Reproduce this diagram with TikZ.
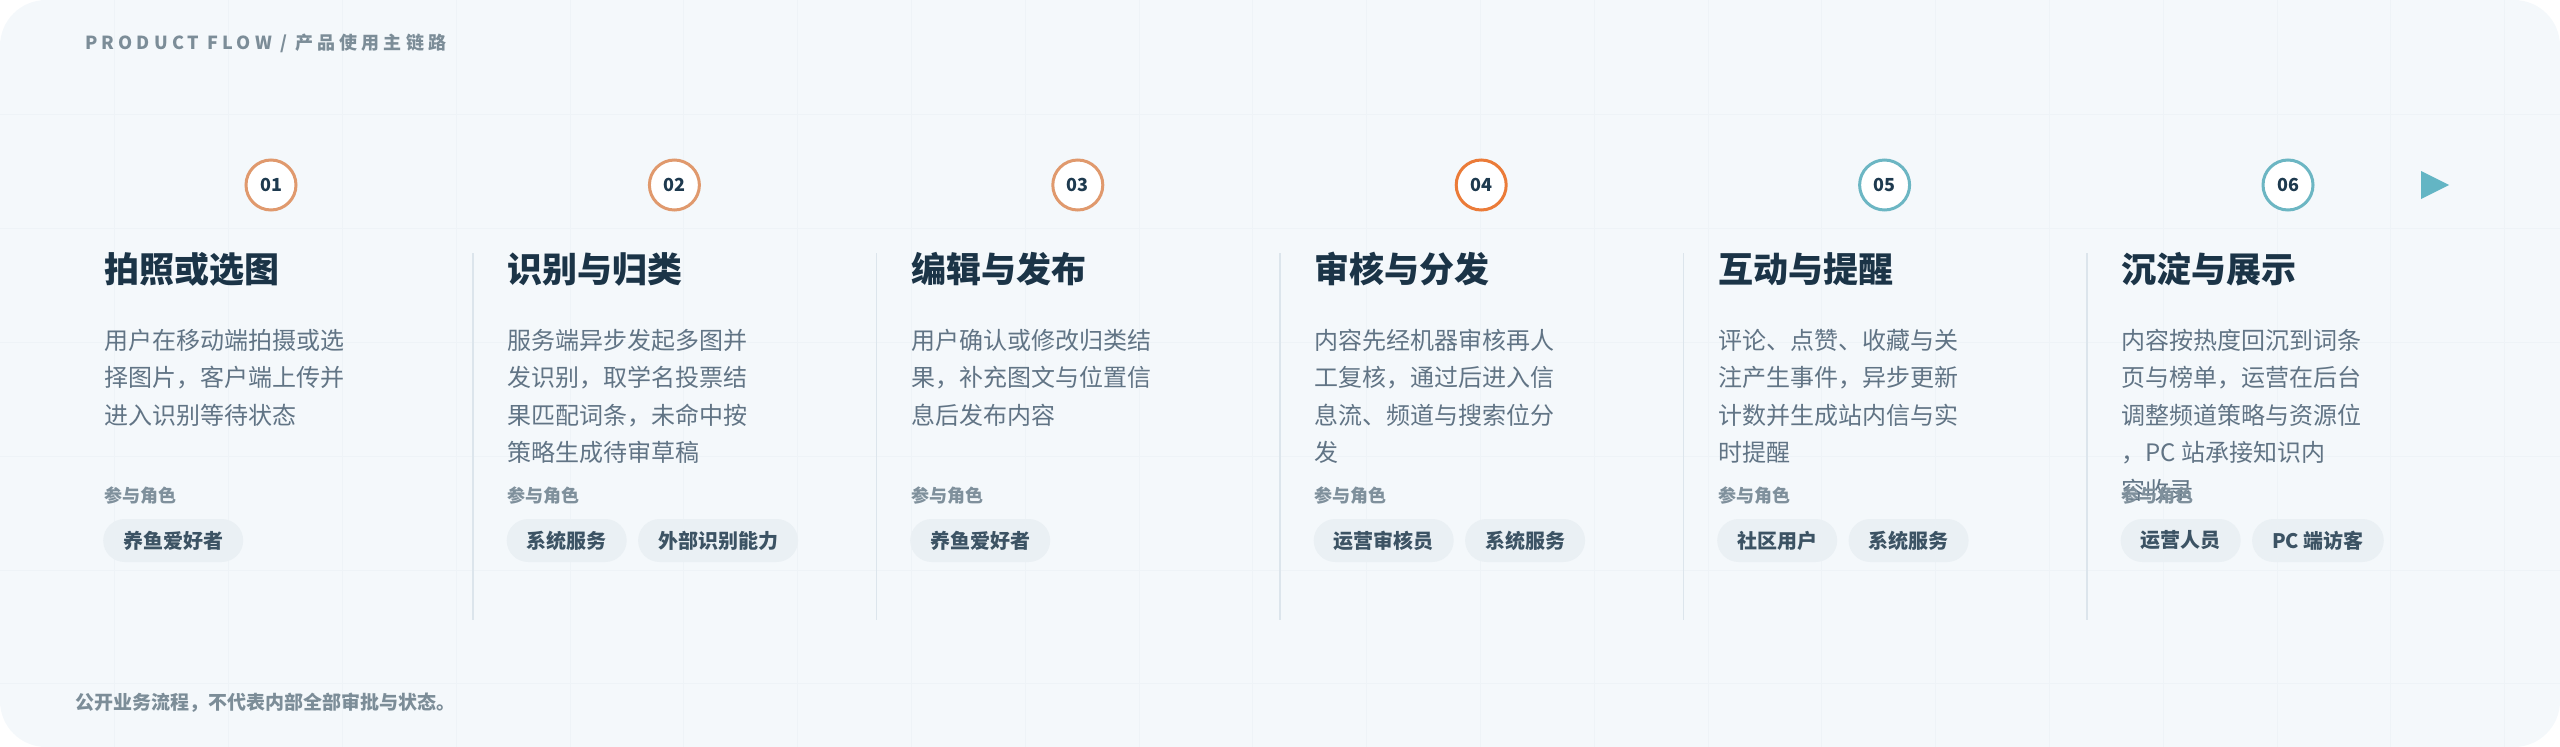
\documentclass[tikz,border=0pt]{standalone}
\usepackage{fontspec}
\setmainfont{Noto Sans CJK SC}
\definecolor{panelbg}{HTML}{F4F8FB}
\definecolor{gridc}{HTML}{EEF3F7}
\definecolor{divc}{HTML}{DCE5EC}
\definecolor{titlec}{HTML}{1B3447}
\definecolor{descc}{HTML}{617485}
\definecolor{labelc}{HTML}{7F909C}
\definecolor{chipbg}{HTML}{EAF0F4}
\definecolor{chiptext}{HTML}{3C5364}
\definecolor{headc}{HTML}{7C8D98}
\definecolor{ringa}{HTML}{E0996D}
\definecolor{ringb}{HTML}{EB7B38}
\definecolor{ringc}{HTML}{6CB6C3}
\definecolor{numc}{HTML}{1E3A4F}
\definecolor{arrowc}{HTML}{63B5C4}
\begin{document}
\begin{tikzpicture}[x=1pt,y=-1pt,
  titletext/.style={font=\bfseries\fontsize{35}{40}\selectfont, text=titlec, inner sep=0pt, anchor=base west},
  desctext/.style={font=\fontsize{24}{30}\selectfont, text=descc, inner sep=0pt, anchor=base west},
  rolelabel/.style={font=\bfseries\fontsize{18}{20}\selectfont, text=labelc, inner sep=0pt, anchor=base west},
  chip/.style={fill=chipbg, rounded corners=21.5pt, minimum height=43pt, inner xsep=20pt, inner ysep=0pt, font=\bfseries\fontsize{20}{22}\selectfont, text=chiptext, anchor=west},
  badge/.style={circle, draw=#1, line width=3pt, fill=white, minimum size=50pt, inner sep=0pt, font=\bfseries\fontsize{18}{18}\selectfont, text=numc},
  divider/.style={draw=divc, line width=1.5pt},
  headtext/.style={font=\bfseries\fontsize{18}{20}\selectfont\addfontfeature{LetterSpace=23}, text=headc, inner sep=0pt, anchor=base west},
  foottext/.style={font=\bfseries\fontsize{19}{20}\selectfont, text=headc, inner sep=0pt, anchor=base west}
]
\useasboundingbox (0,0) rectangle (2560,747);
% panel
\fill[panelbg, rounded corners=46pt] (0,0) rectangle (2560,747);
\begin{scope}
  \clip[rounded corners=46pt] (0,0) rectangle (2560,747);
  \foreach \k in {1,...,22} \draw[gridc, line width=1pt] ({113.8*\k+1},0) -- ({113.8*\k+1},747);
  \foreach \k in {1,...,6} \draw[gridc, line width=1pt] (0,{113.8*\k+1}) -- (2560,{113.8*\k+1});
\end{scope}

% header and footer
\node[headtext] (head) at (85,49) {PRODUCT FLOW / 产品使用主链路};
\node[foottext] (foot) at (75,709) {公开业务流程，不代表内部全部审批与状态。};

% dividers
\foreach \i in {0,...,4} {
  \coordinate (dt\i) at ({473+403.5*\i},253);
  \coordinate (db\i) at ({473+403.5*\i},620);
  \draw[divider] (dt\i) -- (db\i);
}

% badges
\node[badge=ringa] (b1) at (271,185) {01};
\node[badge=ringa] (b2) at (674.4,185) {02};
\node[badge=ringa] (b3) at (1077.8,185) {03};
\node[badge=ringb] (b4) at (1481.2,185) {04};
\node[badge=ringc] (b5) at (1884.6,185) {05};
\node[badge=ringc] (b6) at (2288,185) {06};
\fill[arrowc] (2421,171) -- (2449,185) -- (2421,199) -- cycle;

% column 1
\node[titletext] (t1) at (104,282) {拍照或选图};
\foreach \t [count=\k from 0] in {用户在移动端拍摄或选, 择图片，客户端上传并, 进入识别等待状态}
  \node[desctext] (d1-\k) at (104,{349+37.5*\k}) {\t};
\node[rolelabel] (r1) at (104,502) {参与角色};
\node[chip] (c1a) at (103,540.5) {养鱼爱好者};

% column 2
\node[titletext] (t2) at (507.5,282) {识别与归类};
\foreach \t [count=\k from 0] in {服务端异步发起多图并, 发识别，取学名投票结, 果匹配词条，未命中按, 策略生成待审草稿}
  \node[desctext] (d2-\k) at (507.5,{349+37.5*\k}) {\t};
\node[rolelabel] (r2) at (507.5,502) {参与角色};
\node[chip] (c2a) at (506.5,540.5) {系统服务};
\node[chip] (c2b) at ([xshift=11pt]c2a.east) {外部识别能力};

% column 3
\node[titletext] (t3) at (911,282) {编辑与发布};
\foreach \t [count=\k from 0] in {用户确认或修改归类结, 果，补充图文与位置信, 息后发布内容}
  \node[desctext] (d3-\k) at (911,{349+37.5*\k}) {\t};
\node[rolelabel] (r3) at (911,502) {参与角色};
\node[chip] (c3a) at (910,540.5) {养鱼爱好者};

% column 4
\node[titletext] (t4) at (1314.5,282) {审核与分发};
\foreach \t [count=\k from 0] in {内容先经机器审核再人, 工复核，通过后进入信, 息流、频道与搜索位分, 发}
  \node[desctext] (d4-\k) at (1314.5,{349+37.5*\k}) {\t};
\node[rolelabel] (r4) at (1314.5,502) {参与角色};
\node[chip] (c4a) at (1313.5,540.5) {运营审核员};
\node[chip] (c4b) at ([xshift=11pt]c4a.east) {系统服务};

% column 5
\node[titletext] (t5) at (1718,282) {互动与提醒};
\foreach \t [count=\k from 0] in {评论、点赞、收藏与关, 注产生事件，异步更新, 计数并生成站内信与实, 时提醒}
  \node[desctext] (d5-\k) at (1718,{349+37.5*\k}) {\t};
\node[rolelabel] (r5) at (1718,502) {参与角色};
\node[chip] (c5a) at (1717,540.5) {社区用户};
\node[chip] (c5b) at ([xshift=11pt]c5a.east) {系统服务};

% column 6
\node[titletext] (t6) at (2121.5,282) {沉淀与展示};
\foreach \t [count=\k from 0] in {内容按热度回沉到词条, 页与榜单，运营在后台, 调整频道策略与资源位, ，PC 站承接知识内, 容收录}
  \node[desctext] (d6-\k) at (2121.5,{349+37.5*\k}) {\t};
\node[rolelabel] (r6) at (2121.5,502) {参与角色};
\node[chip] (c6a) at (2120.5,540.5) {运营人员};
\node[chip] (c6b) at ([xshift=11pt]c6a.east) {PC 端访客};
\end{tikzpicture}
\end{document}
